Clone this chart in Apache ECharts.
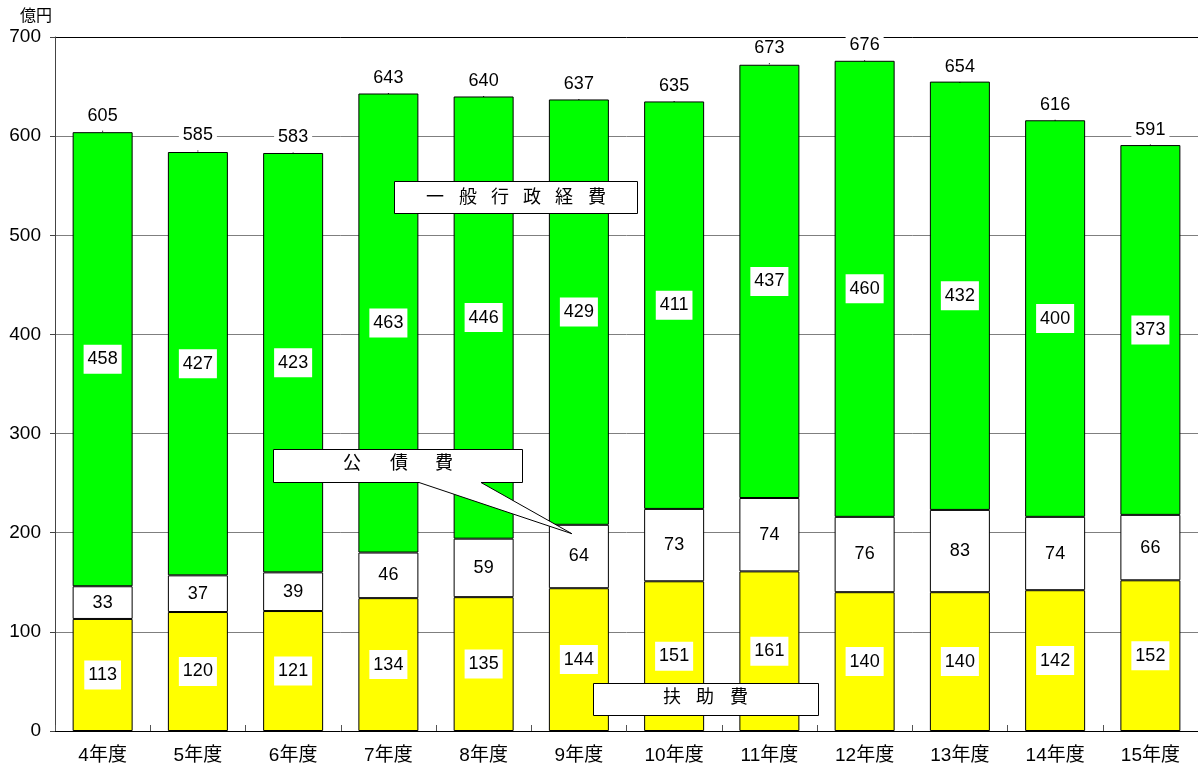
<!DOCTYPE html>
<html>
<head>
<meta charset="utf-8">
<script src="https://cdn.jsdelivr.net/npm/echarts@6/dist/echarts.min.js"></script>
<style>
  html, body { margin: 0; padding: 0; background: #fff; }
  #chart { width: 1198px; height: 769px; }
</style>
</head>
<body>
<div id="chart"></div>
<script>
// 年度別 歳出内訳（億円）
const categories = ['4年度', '5年度', '6年度', '7年度', '8年度', '9年度', '10年度', '11年度', '12年度', '13年度', '14年度', '15年度'];
const fujohi = [113, 120, 121, 134, 135, 144, 151, 161, 140, 140, 142, 152];       // 扶助費
const kosaihi = [33, 37, 39, 46, 59, 64, 73, 74, 76, 83, 74, 66];                  // 公債費
const ippanGyosei = [458, 427, 423, 463, 446, 429, 411, 437, 460, 432, 400, 373];  // 一般行政経費
const totals = [605, 585, 583, 643, 640, 637, 635, 673, 676, 654, 616, 591];
const yTicks = [0, 100, 200, 300, 400, 500, 600, 700];

const FONT = '"Liberation Sans", Arial, "Noto Sans CJK JP", sans-serif';

const chart = echarts.init(document.getElementById('chart'), null, { renderer: 'canvas' });

const segLabel = {
  show: true,
  position: 'inside',
  color: '#000',
  fontFamily: FONT,
  fontSize: 18,
  backgroundColor: '#fff',
  padding: [6, 4, 5, 4]
};

function barSeries(name, data, color) {
  return {
    name: name,
    type: 'bar',
    stack: 'total',
    barWidth: 60,
    data: data,
    itemStyle: { color: color, borderColor: '#000', borderWidth: 1 },
    label: segLabel,
    z: 2
  };
}

// grid lines: grey, top one black (forms the frame's top edge)
const gridColors = yTicks.map((v, i) => (i === yTicks.length - 1 ? '#000' : '#7f7f7f'));

chart.setOption({
  animation: false,
  backgroundColor: '#fff',
  textStyle: { fontFamily: FONT },
  grid: { left: 55, right: 0, top: 37, bottom: 38, containLabel: false },
  xAxis: {
    type: 'category',
    data: categories,
    axisLine: { show: true, lineStyle: { color: '#000', width: 1 } },
    axisTick: { show: true, inside: true, length: 6, alignWithLabel: false, lineStyle: { color: '#555' } },
    axisLabel: { color: '#000', fontSize: 19, fontFamily: FONT, margin: 15 },
    splitLine: { show: false }
  },
  yAxis: {
    type: 'value',
    min: 0,
    max: 700,
    interval: 100,
    axisLine: { show: true, lineStyle: { color: '#444', width: 1 } },
    axisTick: { show: true, length: 5, lineStyle: { color: '#444' } },
    axisLabel: { color: '#000', fontSize: 19, fontFamily: FONT, margin: 14 },
    splitLine: { show: true, lineStyle: { color: gridColors, width: 1 } }
  },
  series: [
    barSeries('扶助費', fujohi, '#ffff00'),
    barSeries('公債費', kosaihi, '#ffffff'),
    barSeries('一般行政経費', ippanGyosei, '#00ff00'),
    {
      name: '合計',
      type: 'scatter',
      data: totals,
      symbol: 'rect',
      symbolSize: 1,
      itemStyle: { color: '#000', opacity: 1 },
      emphasis: { disabled: true },
      z: 5,
      label: {
        show: true,
        position: 'top',
        distance: 5,
        color: '#000',
        opacity: 1,
        fontFamily: FONT,
        fontSize: 18,
        backgroundColor: '#fff',
        padding: [1, 4, 1, 4],
        formatter: p => String(p.value)
      }
    }
  ]
});

// one character of a callout caption
function ch(x, y, text) {
  return {
    type: 'text',
    z: 101,
    style: {
      x: x, y: y, text: text,
      fill: '#000', font: '18px ' + FONT,
      align: 'center', verticalAlign: 'middle'
    }
  };
}

function drawCallouts() {
  const tip = chart.convertToPixel({ xAxisIndex: 0, yAxisIndex: 0 }, ['9年度', 199]);
  const tipX = tip[0] - 7;
  const tipY = tip[1];
  chart.setOption({
    graphic: [
      {
        type: 'rect', z: 100,
        shape: { x: 394.5, y: 181.5, width: 243, height: 32 },
        style: { fill: '#fff', stroke: '#000', lineWidth: 1 }
      },
      ch(435, 198, '一'), ch(468, 198, '般'), ch(500, 198, '行'),
      ch(532, 198, '政'), ch(564, 198, '経'), ch(597, 198, '費'),
      {
        type: 'polygon', z: 100,
        shape: {
          points: [[273.5, 449.5], [522.5, 449.5], [522.5, 482.5], [481, 482.5],
                   [tipX, tipY], [419, 482.5], [273.5, 482.5]]
        },
        style: { fill: '#fff', stroke: '#000', lineWidth: 1 }
      },
      ch(352, 464, '公'), ch(399, 464, '債'), ch(444, 464, '費'),
      {
        type: 'rect', z: 100,
        shape: { x: 593.5, y: 683.5, width: 225, height: 32 },
        style: { fill: '#fff', stroke: '#000', lineWidth: 1 }
      },
      ch(672, 698, '扶'), ch(705, 698, '助'), ch(739, 698, '費'),
      {
        type: 'text', z: 101,
        style: {
          x: 36, y: 17, text: '億円',
          fill: '#000', font: '16px ' + FONT,
          align: 'center', verticalAlign: 'middle'
        }
      }
    ]
  });
}
drawCallouts();
</script>
</body>
</html>
